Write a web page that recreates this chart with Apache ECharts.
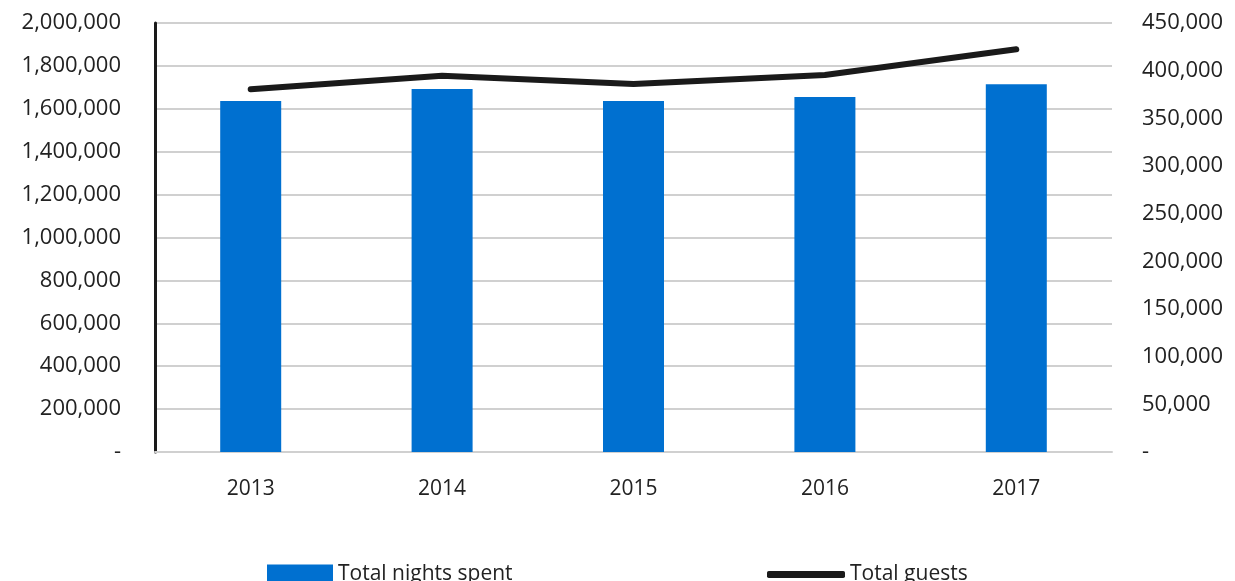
<!DOCTYPE html>
<html><head><meta charset="utf-8">
<script src="https://cdn.jsdelivr.net/npm/echarts@6/dist/echarts.min.js"></script>
<style>html,body{margin:0;padding:0;background:#fff}#c{width:1235px;height:581px}</style>
</head><body><div id="c"></div>
<script>
var categories = ['2013', '2014', '2015', '2016', '2017'];
var nightsSpent = [1636000, 1692000, 1636000, 1655000, 1715000];
var totalGuests = [380500, 394700, 386000, 395500, 422400];
var leftTicks = {min: 0, max: 2000000, interval: 200000};
var rightTicks = {min: 0, max: 450000, interval: 50000};

function fmt(v) { return v === 0 ? '-' : v.toLocaleString('en-US'); }
var FONT = 'Open Sans';
var chart = echarts.init(document.getElementById('c'), null, {renderer: 'canvas'});
chart.setOption({
  animation: false,
  textStyle: {fontFamily: FONT},
  grid: {left: 155, right: 123, top: 23, bottom: 129, containLabel: false},
  legend: [{
    data: [{name: 'Total nights spent', icon: 'rect'}], left: 267, top: 564, padding: 0,
    itemWidth: 66, itemHeight: 20, itemGap: 6,
    textStyle: {fontFamily: FONT, fontSize: 21, color: '#222'}
  }, {
    data: [{name: 'Total guests', icon: 'roundRect', itemStyle: {color: '#1a1a1a', borderWidth: 0}}],
    left: 767, top: 564, padding: 0, itemWidth: 78, itemHeight: 7, itemGap: 8,
    textStyle: {fontFamily: FONT, fontSize: 21, color: '#222'}
  }],
  xAxis: {
    type: 'category', data: categories,
    axisLine: {show: true, lineStyle: {color: '#d0d0d0', width: 2}},
    axisTick: {show: false},
    axisLabel: {fontSize: 21, color: '#222', margin: 27, fontFamily: FONT}
  },
  yAxis: [{
    type: 'value', min: leftTicks.min, max: leftTicks.max, interval: leftTicks.interval,
    axisLine: {show: true, lineStyle: {color: '#1a1a1a', width: 3}},
    axisTick: {show: false},
    splitLine: {lineStyle: {color: '#d0d0d0', width: 2}},
    axisLabel: {formatter: fmt, fontSize: 22, color: '#222', margin: 34, fontFamily: FONT}
  }, {
    type: 'value', min: rightTicks.min, max: rightTicks.max, interval: rightTicks.interval,
    axisLine: {show: false}, axisTick: {show: false}, splitLine: {show: false},
    axisLabel: {formatter: fmt, fontSize: 22, color: '#222', margin: 30, align: 'left', fontFamily: FONT}
  }],
  series: [{
    name: 'Total nights spent', type: 'bar', data: nightsSpent, yAxisIndex: 0,
    barWidth: 61, itemStyle: {color: '#0070d0'}
  }, {
    name: 'Total guests', type: 'line', data: totalGuests, yAxisIndex: 1,
    symbol: 'none', showSymbol: false,
    lineStyle: {color: '#1a1a1a', width: 6, cap: 'round', join: 'round'},
    itemStyle: {color: '#1a1a1a'}
  }]
});
</script></body></html>
